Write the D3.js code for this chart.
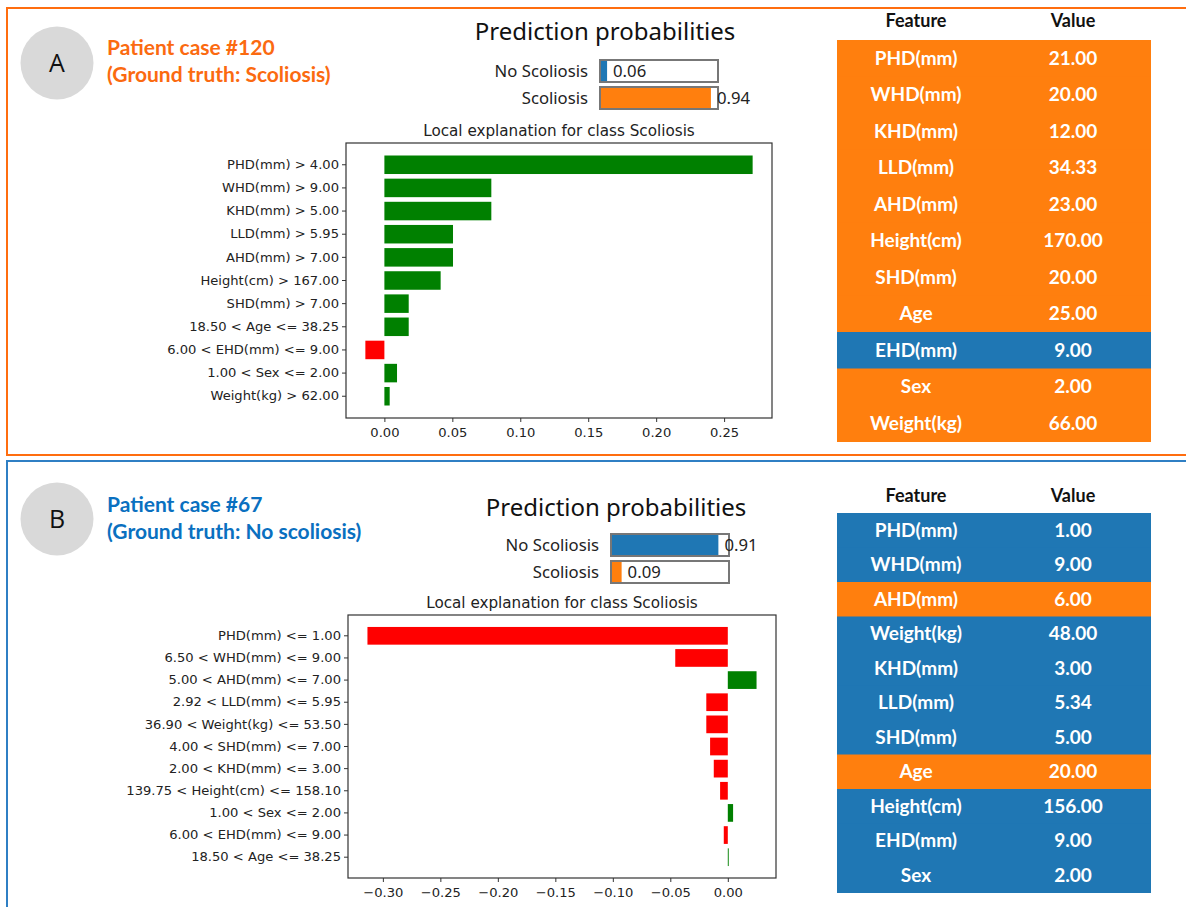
<!DOCTYPE html>
<html>
<head>
<meta charset="utf-8">
<script src="https://cdn.jsdelivr.net/npm/d3@7"></script>
<style>
  html, body { margin: 0; padding: 0; background: #fff; }
  svg { display: block; }
</style>
</head>
<body>
<svg width="1186" height="907"></svg>
<script>
// prediction probabilities
const probClasses = ['No Scoliosis', 'Scoliosis'];
const probA = [0.06, 0.94];
const probB = [0.91, 0.09];

// lime explanations
const limeLabelsA = ['PHD(mm) > 4.00', 'WHD(mm) > 9.00', 'KHD(mm) > 5.00', 'LLD(mm) > 5.95',
  'AHD(mm) > 7.00', 'Height(cm) > 167.00', 'SHD(mm) > 7.00', '18.50 < Age <= 38.25',
  '6.00 < EHD(mm) <= 9.00', '1.00 < Sex <= 2.00', 'Weight(kg) > 62.00'];
const limeValuesA = [0.271, 0.0787, 0.0787, 0.0505, 0.0505, 0.0414, 0.0179, 0.0179, -0.014, 0.0093, 0.0039];
const ticksA = [0, 0.05, 0.10, 0.15, 0.20, 0.25];

const limeLabelsB = ['PHD(mm) <= 1.00', '6.50 < WHD(mm) <= 9.00', '5.00 < AHD(mm) <= 7.00',
  '2.92 < LLD(mm) <= 5.95', '36.90 < Weight(kg) <= 53.50', '4.00 < SHD(mm) <= 7.00',
  '2.00 < KHD(mm) <= 3.00', '139.75 < Height(cm) <= 158.10', '1.00 < Sex <= 2.00',
  '6.00 < EHD(mm) <= 9.00', '18.50 < Age <= 38.25'];
const limeValuesB = [-0.3134, -0.0457, 0.025, -0.0187, -0.0187, -0.0154, -0.0122, -0.0067, 0.0046, -0.0035, 0.0008];
const ticksB = [-0.30, -0.25, -0.20, -0.15, -0.10, -0.05, 0.00];

// feature tables (S = pushes towards Scoliosis, N = towards No scoliosis)
const tableFeaturesA = ['PHD(mm)', 'WHD(mm)', 'KHD(mm)', 'LLD(mm)', 'AHD(mm)', 'Height(cm)', 'SHD(mm)', 'Age', 'EHD(mm)', 'Sex', 'Weight(kg)'];
const tableValuesA = ['21.00', '20.00', '12.00', '34.33', '23.00', '170.00', '20.00', '25.00', '9.00', '2.00', '66.00'];
const tableSideA = ['S', 'S', 'S', 'S', 'S', 'S', 'S', 'S', 'N', 'S', 'S'];

const tableFeaturesB = ['PHD(mm)', 'WHD(mm)', 'AHD(mm)', 'Weight(kg)', 'KHD(mm)', 'LLD(mm)', 'SHD(mm)', 'Age', 'Height(cm)', 'EHD(mm)', 'Sex'];
const tableValuesB = ['1.00', '9.00', '6.00', '48.00', '3.00', '5.34', '5.00', '20.00', '156.00', '9.00', '2.00'];
const tableSideB = ['N', 'N', 'S', 'N', 'N', 'N', 'N', 'S', 'N', 'N', 'N'];

const BLUE = '#1f77b4', ORANGE = '#ff7f0e';
const svg = d3.select('svg');

// panel frames
svg.append('rect').attr('x', 7).attr('y', 8).attr('width', 1190).attr('height', 447)
  .attr('fill', 'none').attr('stroke', '#ff6d0f').attr('stroke-width', 2);
svg.append('rect').attr('x', 7).attr('y', 461).attr('width', 1190).attr('height', 460)
  .attr('fill', 'none').attr('stroke', '#2f7fc4').attr('stroke-width', 2);

function header(letter, cy, lines, color, y1) {
  svg.append('circle').attr('cx', 57).attr('cy', cy).attr('r', 36.5).attr('fill', '#d9d9d9');
  svg.append('text').attr('x', 57).attr('y', cy + 9).attr('text-anchor', 'middle')
    .style('font', '25px "Open Sans"').attr('fill', '#111').text(letter);
  svg.selectAll(null).data(lines).join('text')
    .attr('x', 107).attr('y', (d, i) => y1 + i * 27)
    .style('font', 'bold 21px Lato').attr('fill', color).text(d => d);
}
header('A', 63, ['Patient case #120', '(Ground truth: Scoliosis)'], '#fb6a10', 55);
header('B', 519, ['Patient case #67', '(Ground truth: No scoliosis)'], '#0a70c0', 512);

function probs(values, cx, titleY, boxX, boxY) {
  const w = 118, h = 22;
  const x = d3.scaleLinear().domain([0, 1]).range([0, w]);
  const g = svg.append('g');
  g.append('text').attr('x', cx).attr('y', titleY).attr('text-anchor', 'middle')
    .style('font', '24px "Noto Sans"').attr('fill', '#111').text('Prediction probabilities');
  const rows = g.selectAll('g').data(values).join('g')
    .attr('transform', (d, i) => `translate(${boxX},${boxY + i * 27})`);
  rows.append('rect').attr('width', d => x(d)).attr('height', h)
    .attr('fill', (d, i) => i === 0 ? BLUE : ORANGE);
  rows.append('rect').attr('width', w).attr('height', h)
    .attr('fill', 'none').attr('stroke', '#777').attr('stroke-width', 2);
  rows.append('text').attr('x', -12).attr('y', 17).attr('text-anchor', 'end')
    .style('font', '16.7px "Noto Sans"').attr('fill', '#222').text((d, i) => probClasses[i]);
  rows.append('text').attr('x', d => x(d) + 6).attr('y', 17)
    .style('font', '16.7px "Noto Sans"').attr('fill', '#222').text(d => d.toFixed(2));
}
probs(probA, 605, 40, 600, 60);
probs(probB, 616, 516, 611, 534);

function lime(labels, values, ticks, left, right, top, bottom) {
  const lo = Math.min(0, d3.min(values)), hi = Math.max(0, d3.max(values));
  const m = (hi - lo) * 0.05;
  const x = d3.scaleLinear().domain([lo - m, hi + m]).range([left, right]);
  const y = d3.scaleBand().domain(labels).range([top, bottom]).paddingInner(0.2).paddingOuter(0.54);
  const g = svg.append('g');
  g.append('text').attr('x', (left + right) / 2).attr('y', top - 7).attr('text-anchor', 'middle')
    .style('font', '15.2px "DejaVu Sans"').attr('fill', '#222').text('Local explanation for class Scoliosis');
  g.selectAll('.bar').data(values).join('rect').attr('class', 'bar')
    .attr('x', d => x(Math.min(0, d))).attr('width', d => Math.abs(x(d) - x(0)))
    .attr('y', (d, i) => y(labels[i])).attr('height', y.bandwidth())
    .attr('fill', d => d > 0 ? 'green' : 'red');
  const xa = g.append('g').attr('transform', `translate(0,${bottom})`)
    .call(d3.axisBottom(x).tickValues(ticks).tickFormat(d => d3.format('.2f')(d).replace('-', '\u2212')).tickSize(4).tickSizeOuter(0));
  const ya = g.append('g').attr('transform', `translate(${left},0)`)
    .call(d3.axisLeft(y).tickSize(4).tickSizeOuter(0));
  [xa, ya].forEach(a => {
    a.select('.domain').remove();
    a.selectAll('line').attr('stroke', '#333');
    a.selectAll('text').style('font', '13.1px "DejaVu Sans"').attr('fill', '#222');
  });
  xa.selectAll('text').attr('dy', '0.9em');
  g.append('rect').attr('x', left).attr('y', top).attr('width', right - left).attr('height', bottom - top)
    .attr('fill', 'none').attr('stroke', '#333').attr('stroke-width', 1.2);
}
lime(limeLabelsA, limeValuesA, ticksA, 346, 772, 143, 418);
lime(limeLabelsB, limeValuesB, ticksB, 348, 776, 615, 878);

function table(features, values, side, top, rowH, headY) {
  const g = svg.append('g');
  g.selectAll('.hd').data(['Feature', 'Value']).join('text').attr('class', 'hd')
    .attr('x', (d, i) => i === 0 ? 916 : 1073).attr('y', headY).attr('text-anchor', 'middle')
    .style('font', 'bold 18px Lato').attr('fill', '#111').text(d => d);
  const rows = g.selectAll('.row').data(features).join('g').attr('class', 'row')
    .attr('transform', (d, i) => `translate(837,${top + i * rowH})`);
  rows.append('rect').attr('width', 314).attr('height', rowH + 0.5)
    .attr('fill', (d, i) => side[i] === 'S' ? ORANGE : BLUE);
  rows.append('text').attr('x', 79).attr('y', rowH / 2 + 6.5).attr('text-anchor', 'middle')
    .style('font', 'bold 19px Lato').attr('fill', '#fff').text(d => d);
  rows.append('text').attr('x', 236).attr('y', rowH / 2 + 6.5).attr('text-anchor', 'middle')
    .style('font', 'bold 19px Lato').attr('fill', '#fff').text((d, i) => values[i]);
}
table(tableFeaturesA, tableValuesA, tableSideA, 40, 36.5, 27);
table(tableFeaturesB, tableValuesB, tableSideB, 513, 34.5, 502);
</script>
</body>
</html>
